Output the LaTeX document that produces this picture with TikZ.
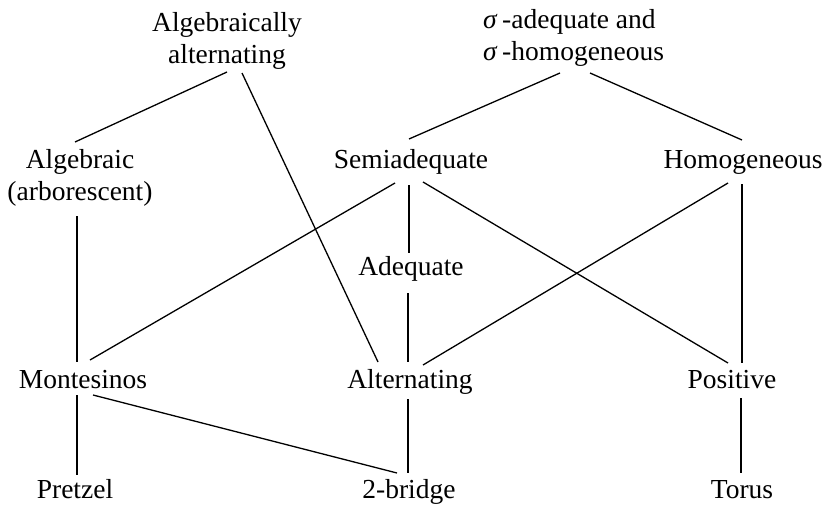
\documentclass[tikz,border=0pt]{standalone}
\usepackage{fontspec}
\setmainfont{Liberation Serif}
\begin{document}
\begin{tikzpicture}[x=1pt,y=-1pt,
  lbl/.style={inner sep=0pt,anchor=base,font=\fontsize{27.5}{32}\selectfont},
  conn/.style={line width=1.3pt}]
\useasboundingbox (0,0) rectangle (829,506);
% nodes
\node[lbl] (aa) at (227,31) {\begin{tabular}[t]{@{}c@{}}Algebraically\\alternating\end{tabular}};
\node[lbl,anchor=base west] (sig) at (483,28) {\begin{tabular}[t]{@{}l@{}}\textit{σ}\,-adequate and\\\textit{σ}\,-homogeneous\end{tabular}};
\node[lbl] (alg) at (80,168) {\begin{tabular}[t]{@{}c@{}}Algebraic\\(arborescent)\end{tabular}};
\node[lbl] (semi) at (411,168) {Semiadequate};
\node[lbl] (hom) at (743,168) {Homogeneous};
\node[lbl] (ade) at (411,275) {Adequate};
\node[lbl] (mon) at (83,388) {Montesinos};
\node[lbl] (alt) at (410,388) {Alternating};
\node[lbl] (pos) at (732,388) {Positive};
\node[lbl] (pre) at (75,498) {Pretzel};
\node[lbl] (two) at (409,498) {2-bridge};
\node[lbl] (tor) at (742,498) {Torus};
% connector end points
\coordinate (aa-1) at (227,72);  \coordinate (alg-1) at (75,142);
\coordinate (aa-2) at (242,73);  \coordinate (alt-1) at (378,362);
\coordinate (sig-1) at (560,73); \coordinate (semi-1) at (409,139);
\coordinate (sig-2) at (590,73); \coordinate (hom-1) at (742,140);
\coordinate (alg-2) at (77,216); \coordinate (mon-1) at (77,362);
\coordinate (semi-2) at (395,183); \coordinate (mon-2) at (90,360);
\coordinate (semi-3) at (409,185); \coordinate (ade-1) at (409,253);
\coordinate (semi-4) at (423,182); \coordinate (pos-1) at (728,363);
\coordinate (hom-2) at (728,183); \coordinate (alt-2) at (423,365);
\coordinate (hom-3) at (742,184); \coordinate (pos-2) at (742,363);
\coordinate (ade-2) at (408,293); \coordinate (alt-3) at (408,362);
\coordinate (mon-3) at (77,395);  \coordinate (pre-1) at (77,475);
\coordinate (mon-4) at (93,395);  \coordinate (two-1) at (397,473);
\coordinate (alt-4) at (408,399); \coordinate (two-2) at (408,473);
\coordinate (pos-3) at (741,398); \coordinate (tor-1) at (741,473);
% connectors
\draw[conn] (aa-1) -- (alg-1);
\draw[conn] (aa-2) -- (alt-1);
\draw[conn] (sig-1) -- (semi-1);
\draw[conn] (sig-2) -- (hom-1);
\draw[conn] (alg-2) -- (mon-1);
\draw[conn] (semi-2) -- (mon-2);
\draw[conn] (semi-3) -- (ade-1);
\draw[conn] (semi-4) -- (pos-1);
\draw[conn] (hom-2) -- (alt-2);
\draw[conn] (hom-3) -- (pos-2);
\draw[conn] (ade-2) -- (alt-3);
\draw[conn] (mon-3) -- (pre-1);
\draw[conn] (mon-4) -- (two-1);
\draw[conn] (alt-4) -- (two-2);
\draw[conn] (pos-3) -- (tor-1);
\end{tikzpicture}
\end{document}
